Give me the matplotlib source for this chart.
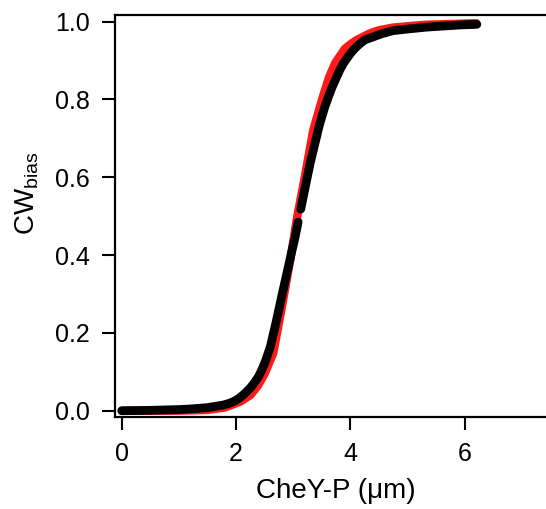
import matplotlib
matplotlib.use("Agg")
import matplotlib.pyplot as plt

plt.rcParams.update({
    "font.family": ["Liberation Sans", "DejaVu Sans"],
    "mathtext.fontset": "custom",
    "mathtext.rm": "Liberation Sans",
    "mathtext.it": "Liberation Sans:italic",
    "axes.linewidth": 1.6,
})

# black dots: measured CW bias, lower and upper branch (small gap near 0.5)
black_lo_x = [0.0, 0.5, 1.0, 1.2, 1.5, 1.78, 1.9, 2.0, 2.07, 2.15, 2.245, 2.3,
              2.39, 2.45, 2.51, 2.60, 2.70, 2.81, 2.975, 3.03, 3.085]
black_lo_y = [0.000, 0.001, 0.003, 0.0045, 0.008, 0.0147, 0.020, 0.027, 0.034,
              0.044, 0.058, 0.068, 0.087, 0.105, 0.126, 0.165, 0.228, 0.302,
              0.410, 0.445, 0.485]
black_hi_x = [3.13, 3.295, 3.458, 3.55, 3.615, 3.68, 3.75, 3.815, 3.878, 3.94,
              4.0, 4.05, 4.11, 4.18, 4.25, 4.40, 4.55, 4.75, 5.0, 5.34, 5.92,
              6.21]
black_hi_y = [0.518, 0.636, 0.735, 0.780, 0.807, 0.832, 0.855, 0.876, 0.893,
              0.906, 0.918, 0.927, 0.936, 0.945, 0.953, 0.961, 0.969, 0.977,
              0.981, 0.986, 0.9915, 0.993]

# red: fitted curve (steeper)
red_x = [0.0, 1.0, 1.5, 1.8, 2.07, 2.25, 2.39, 2.5, 2.65, 2.8, 2.95, 3.07,
         3.2, 3.35, 3.517, 3.62, 3.73, 3.9, 4.0, 4.11, 4.34, 4.5, 4.75, 5.3,
         6.2]
red_y = [0.000, 0.000, 0.002, 0.008, 0.023, 0.040, 0.066, 0.095, 0.148, 0.265,
         0.390, 0.500, 0.600, 0.722, 0.807, 0.855, 0.893, 0.930, 0.942, 0.953,
         0.970, 0.978, 0.985, 0.992, 0.996]

x_ticks = [0, 2, 4, 6]
y_ticks = [0.0, 0.2, 0.4, 0.6, 0.8, 1.0]

fig = plt.figure(figsize=(5.46, 5.09), dpi=100)
ax = fig.add_axes([0.2106, 0.1813, 0.7894, 0.7892])

ax.plot(red_x, red_y, color="#ff1a1a", lw=6.0, solid_capstyle="round",
        solid_joinstyle="round")
for xs, ys in [(black_lo_x, black_lo_y), (black_hi_x, black_hi_y)]:
    ax.plot(xs, ys, color="black", lw=6.3, solid_capstyle="round",
            solid_joinstyle="round")

ax.set_xlim(-0.118, 7.42)
ax.set_ylim(-0.0154, 1.017)
ax.set_xticks(x_ticks)
ax.set_yticks(y_ticks)
ax.set_yticklabels([f"{v:.1f}" for v in y_ticks])
ax.spines["right"].set_visible(False)
ax.tick_params(direction="out", length=9.4, width=1.5, labelsize=18,
               colors="black")
ax.tick_params(axis="x", pad=9)
ax.tick_params(axis="y", pad=9)

ax.set_xlabel("CheY-P (\u03bcm)", fontsize=20)
ax.xaxis.set_label_coords((335.8 - 115) / 431, -0.152)
ax.set_ylabel(r"CW$_{\mathrm{bias}}$", fontsize=20)
ax.yaxis.set_label_coords(-0.172, (416.7 - 193) / 401.7)

fig.savefig("out.png", dpi=100)
